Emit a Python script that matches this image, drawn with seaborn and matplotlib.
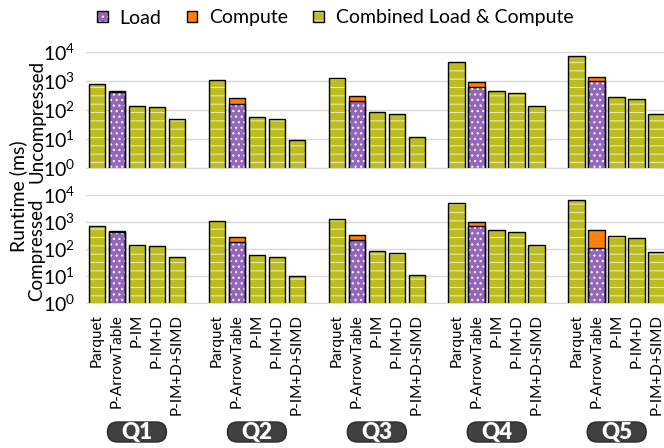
"""Runtime of Parquet loading variants, uncompressed vs compressed."""

import matplotlib

matplotlib.use("Agg")
import matplotlib.pyplot as plt
import matplotlib.transforms as mtransforms
import pandas as pd
import seaborn as sns
from matplotlib.patches import FancyBboxPatch, Patch

# Queries and loader variants.
queries = ["Q1", "Q2", "Q3", "Q4", "Q5"]
methods = ["Parquet", "P-ArrowTable", "P-IM", "P-IM+D", "P-IM+D+SIMD"]
combined_methods = ["Parquet", "P-IM", "P-IM+D", "P-IM+D+SIMD"]

# Combined load & compute runtime (ms), per query, for combined_methods.
unc_combined = [
    [770, 137, 126, 49],
    [1080, 59, 50, 9],
    [1300, 85, 70, 12],
    [4600, 450, 400, 137],
    [7000, 290, 245, 71],
]
cmp_combined = [
    [730, 135, 125, 52],
    [1080, 60, 50, 10],
    [1300, 85, 73, 11],
    [4800, 480, 430, 140],
    [6300, 290, 255, 78],
]

# P-ArrowTable split into load and compute (ms).
unc_load = [430, 160, 205, 640, 1000]
unc_compute = [35, 100, 95, 310, 420]
cmp_load = [430, 180, 220, 710, 109]
cmp_compute = [35, 100, 120, 320, 381]

PURPLE = "#9467bd"
ORANGE = "#ff7f0e"
OLIVE = "#bcbd22"
OLIVE_HATCH = "#e9eaa6"

plt.rcParams["hatch.linewidth"] = 0.8
plt.rcParams["font.family"] = ["Lato", "DejaVu Sans"]
plt.rcParams["mathtext.default"] = "regular"

# Slot order along the x axis, with an empty slot between queries.
slots = []
for i, q in enumerate(queries):
    if i > 0:
        slots.append(f"gap{i}")
    slots += [f"{q} {m}" for m in methods]

rows = []
for panel, comb, load, comp in [
    ("Uncompressed", unc_combined, unc_load, unc_compute),
    ("Compressed", cmp_combined, cmp_load, cmp_compute),
]:
    for qi, q in enumerate(queries):
        for m, v in zip(combined_methods, comb[qi]):
            rows.append((panel, f"{q} {m}", "combined", v))
        rows.append((panel, f"{q} P-ArrowTable", "total", load[qi] + comp[qi]))
        rows.append((panel, f"{q} P-ArrowTable", "load", load[qi]))
df = pd.DataFrame(rows, columns=["panel", "slot", "kind", "value"])

fig = plt.figure(figsize=(6.64, 4.48), dpi=100)
ax_top = fig.add_axes([0.1295, 0.625, 0.870, 0.259])
ax_bot = fig.add_axes([0.1295, 0.324, 0.870, 0.241])

styles = {
    "combined": (OLIVE, "--", OLIVE_HATCH),
    "total": (ORANGE, None, ORANGE),
    "load": (PURPLE, "...", "white"),
}

for ax, panel in [(ax_top, "Uncompressed"), (ax_bot, "Compressed")]:
    ax.set_yscale("log")
    sub = df[df["panel"] == panel]
    for kind in ["combined", "total", "load"]:
        part = sub[sub["kind"] == kind]
        color, hatch, hcolor = styles[kind]
        sns.barplot(data=part, x="slot", y="value", order=slots, color=color,
                    hatch=hatch, edgecolor=hcolor, linewidth=0, width=0.83,
                    errorbar=None, saturation=1, ax=ax, zorder=2)
        sns.barplot(data=part, x="slot", y="value", order=slots, color="black",
                    fill=False, linewidth=1, width=0.83, errorbar=None, ax=ax,
                    zorder=3)
    ax.set_ylim(1, 1e4)
    ax.set_xlim(-0.55, 28.35)
    ax.set_yticks([1, 10, 100, 1000, 10000])
    ax.set_yticklabels([f"$10^{{{e}}}$" for e in range(5)], fontsize=14)
    ax.minorticks_off()
    ax.grid(axis="y", color="#d9d9d9", linewidth=1, zorder=0)
    ax.set_axisbelow(True)
    for s in ["top", "right", "left"]:
        ax.spines[s].set_visible(False)
    ax.spines["bottom"].set_color("#d9d9d9")
    ax.tick_params(axis="y", length=0, pad=8)
    ax.tick_params(axis="x", length=0, pad=8)
    ax.set_xlabel("")
    ax.set_ylabel("")

ax_top.set_xticks([])
tick_pos = [i for i, s in enumerate(slots) if not s.startswith("gap")]
ax_bot.set_xticks(tick_pos)
ax_bot.set_xticklabels(methods * len(queries), rotation=90, fontsize=11)

fig.text(18 / 664, 1 - 196 / 448, "Runtime (ms)", rotation=90, ha="center",
         va="center", fontsize=14)
fig.text(37 / 664, 1 - 121 / 448, "Uncompressed", rotation=90, ha="center",
         va="center", fontsize=13.5)
fig.text(37 / 664, 1 - 250 / 448, "Compressed", rotation=90, ha="center",
         va="center", fontsize=13.5)

# Query badges under each group (drawn in pixel coordinates).
for qi, q in enumerate(queries):
    cx = 0.1295 * 664 + (qi * 6 + 2 + 0.55) / 28.9 * 0.870 * 664
    badge = FancyBboxPatch((cx - 29.5, 448 - 442), 59, 20,
                           boxstyle="round,pad=0,rounding_size=10",
                           transform=mtransforms.IdentityTransform(),
                           facecolor="#404040", edgecolor="#2a2a2a",
                           linewidth=1)
    fig.patches.append(badge)
    fig.text(cx / 664, 1 - 432 / 448, q, ha="center", va="center",
             fontsize=16, fontweight="heavy", color="white")

handles = []
for color, hatch, hcolor in [styles["load"], styles["total"], styles["combined"]]:
    handles.append((Patch(facecolor=color, hatch=hatch, edgecolor=hcolor, linewidth=0),
                    Patch(fill=False, edgecolor="black", linewidth=1)))
fig.legend(handles, ["Load", "Compute", "Combined Load & Compute"],
           loc="center left", bbox_to_anchor=(97 / 664, 1 - 18 / 448), ncol=3,
           frameon=False, fontsize=14, handlelength=0.55, handleheight=0.55,
           handletextpad=0.6, columnspacing=1.3, borderpad=0, borderaxespad=0)

fig.savefig("out.png", dpi=100)
